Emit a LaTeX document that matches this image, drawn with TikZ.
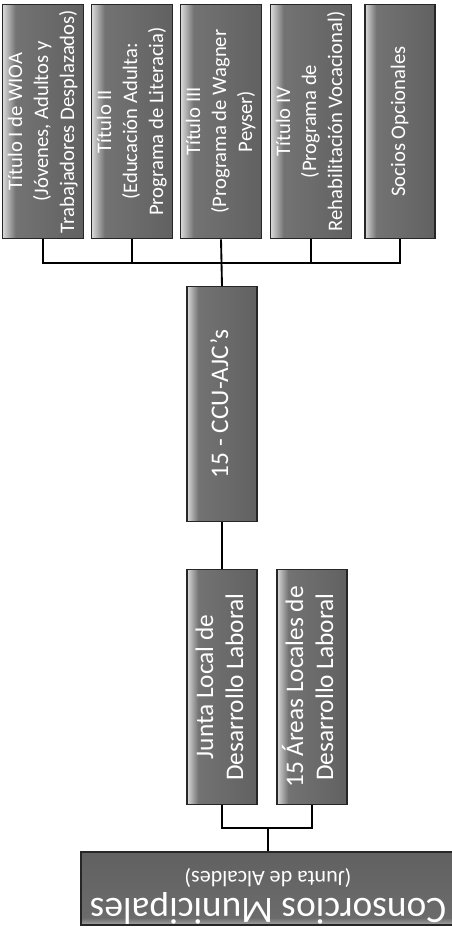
\documentclass[tikz,border=0pt]{standalone}
\usepackage{fontspec}
\usepackage{graphicx}
\setmainfont{Carlito}
\pgfdeclarehorizontalshading{boxgray}{100bp}{color(0bp)=(black!15); color(25bp)=(black!15); color(33bp)=(black!55); color(75bp)=(black!62); color(100bp)=(black!62)}
\pgfdeclareverticalshading{widegray}{100bp}{color(0bp)=(black!35); color(25bp)=(black!35); color(30bp)=(black!58); color(75bp)=(black!62); color(100bp)=(black!62)}
\newcommand{\uptext}[1]{\rotatebox{90}{\begin{tabular}{@{}c@{}}#1\end{tabular}}}

\begin{document}
\begin{tikzpicture}[x=0.75pt,y=-0.75pt,
	box/.style={draw=black!85, line width=0.8pt, text=white, inner sep=1pt},
	tallbox/.style={box, shading=boxgray, minimum width=52.5pt, minimum height=176pt, font=\fontsize{15.5}{19.5}\selectfont},
	midbox/.style={box, shading=boxgray, minimum width=52.5pt, minimum height=176pt, font=\fontsize{19}{22.5}\selectfont},
	link/.style={line width=1.4pt, black}]
				\useasboundingbox (0,0) rectangle (451,930);
				\node[tallbox] (wioa) at (43,121.5) {\uptext{Título I de WIOA\\(Jóvenes, Adultos y\\Trabajadores Desplazados)}};
				\node[tallbox] (adulta) at (132,121.5) {\uptext{Título II\\(Educación Adulta:\\Programa de Literacia)}};
				\node[tallbox] (wagner) at (221,121.5) {\uptext{Título III\\(Programa de Wagner\\Peyser)}};
				\node[tallbox] (rehab) at (311,121.5) {\uptext{Título IV\\(Programa de\\Rehabilitación Vocacional)}};
				\node[tallbox] (socios) at (400,121.5) {\uptext{Socios Opcionales}};
				\node[midbox] (ccu) at (222,404) {\uptext{15 - CCU-AJC's}};
				\node[midbox] (junta) at (222,687) {\uptext{Junta Local de\\Desarrollo Laboral}};
				\node[midbox] (areas) at (312,687) {\uptext{15 Áreas Locales de\\Desarrollo Laboral}};
				\node[box, shading=widegray, minimum width=280.5pt, minimum height=54.75pt, font=\fontsize{28}{30}\selectfont] (consorcios) at (268,888.5) {\raisebox{-3.5pt}[\height][\depth]{\rotatebox{180}{\begin{tabular}{@{}c@{}}Consorcios Municipales\\[-10pt]{\fontsize{16.5}{18}\selectfont (Junta de Alcaldes)}\end{tabular}}}};
				\coordinate (topbus) at (221,263);
				\coordinate (lowbus) at (268,828);
				\draw[link] (wioa.south) |- (topbus) -| (socios.south);
				\draw[link] (adulta.south) -- (adulta.south |- topbus);
				\draw[link] (rehab.south) -- (rehab.south |- topbus);
				\draw[link] (wagner.south) -- (ccu.north);
				\draw[link] (ccu.south) -- (junta.north);
				\draw[link] (junta.south) |- (lowbus) -| (areas.south);
				\draw[link] (lowbus) -- (consorcios.north);
\end{tikzpicture}
\end{document}
